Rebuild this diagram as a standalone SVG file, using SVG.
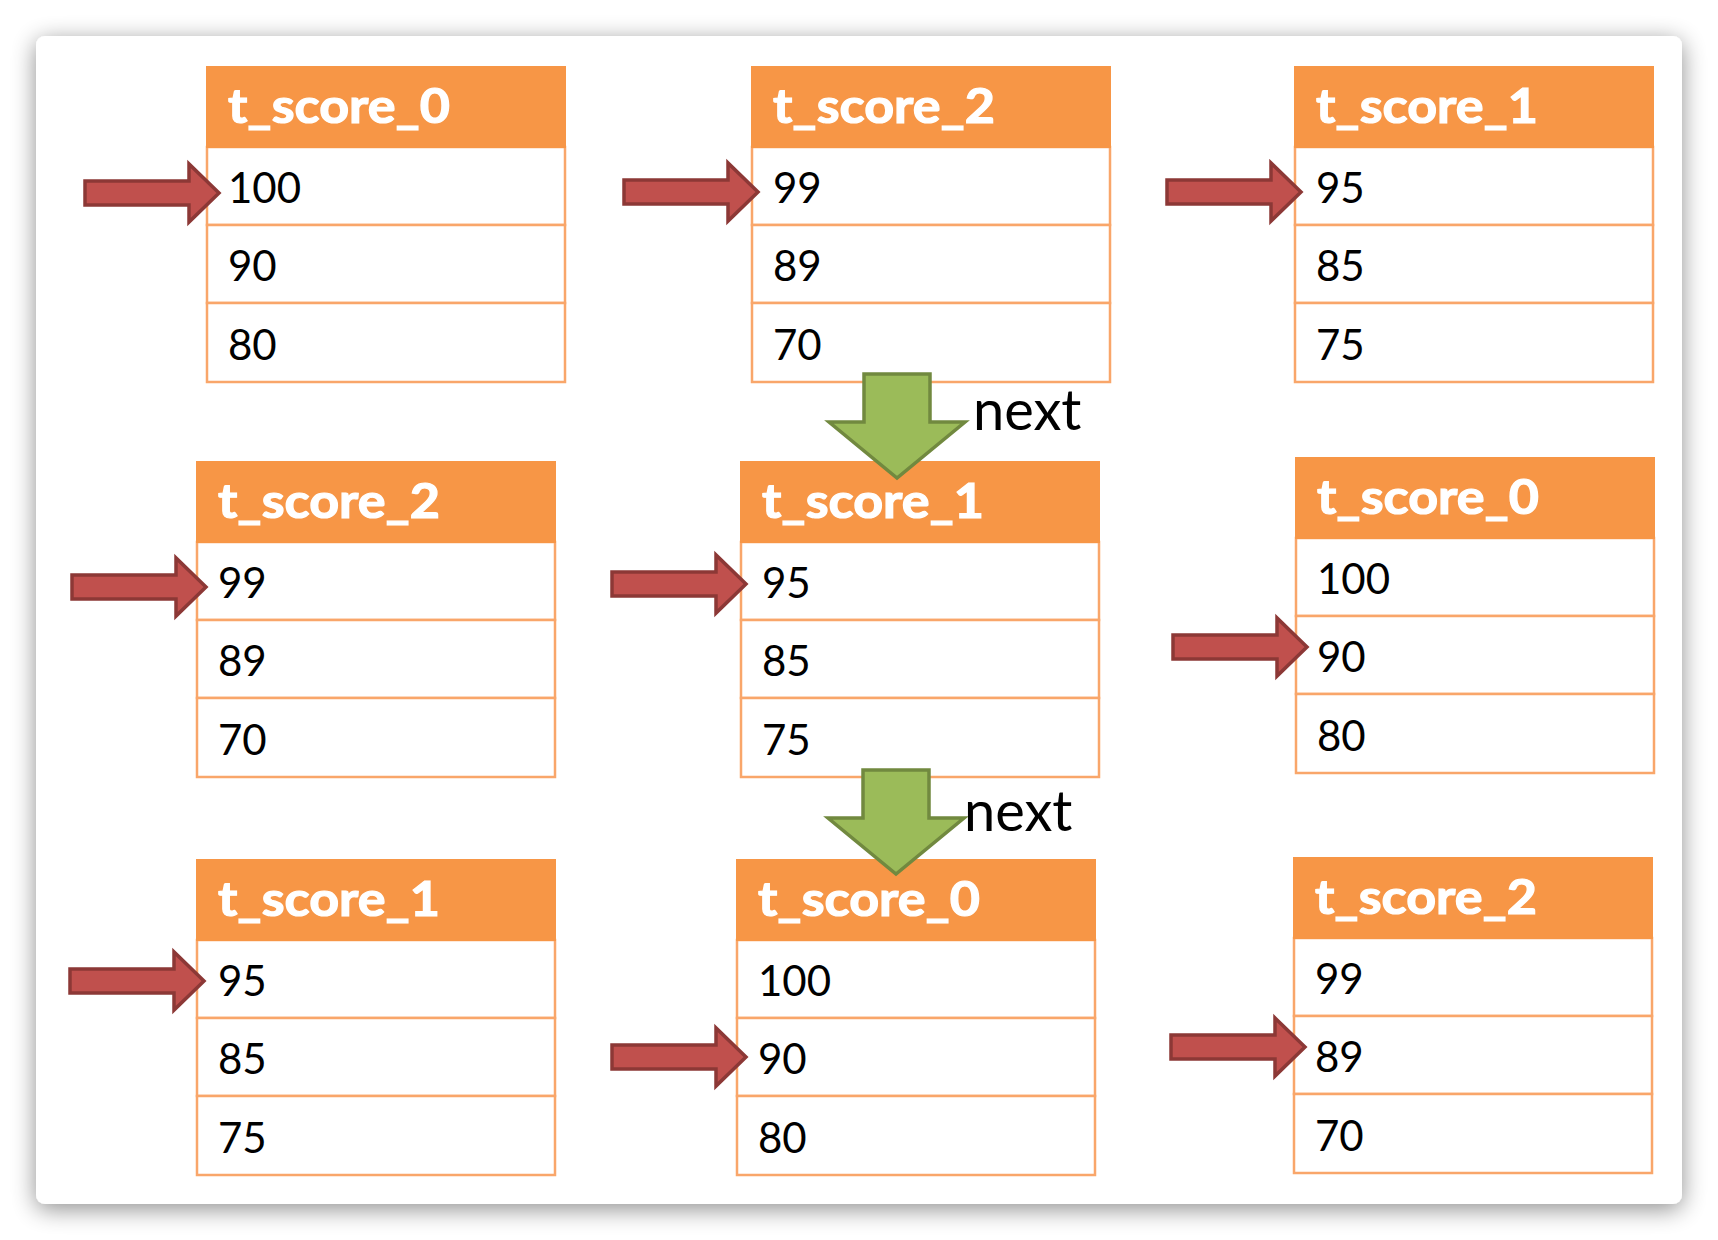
<svg xmlns="http://www.w3.org/2000/svg" width="1718" height="1240" viewBox="0 0 1718 1240">
<defs>
<style>
.hdr{fill:#F79646;stroke:#F79646;stroke-width:2}
.cell{fill:#FFFFFF;stroke:#F9A66A;stroke-width:2.5}
.ht{font-family:Lato,"Liberation Sans",sans-serif;font-weight:bold;font-size:47px;fill:#FFFFFF;stroke:#FFFFFF;stroke-width:1.2}
.rt{font-family:Lato,"Liberation Sans",sans-serif;font-size:42px;fill:#000000}
.nx{font-family:Lato,"Liberation Sans",sans-serif;font-size:56px;fill:#000000}
.red{fill:#C0504D;stroke:#8C3836;stroke-width:3.5;stroke-linejoin:miter}
.grn{fill:#9BBB59;stroke:#71893F;stroke-width:3.5;stroke-linejoin:miter}
</style>
<filter id="sh" x="-10%" y="-10%" width="120%" height="120%">
<feGaussianBlur in="SourceAlpha" stdDeviation="12"/>
<feOffset dy="5" result="b"/>
<feComponentTransfer><feFuncA type="linear" slope="0.45"/></feComponentTransfer>
<feMerge><feMergeNode/><feMergeNode in="SourceGraphic"/></feMerge>
</filter>
<path id="ra" d="M-134,-12 L-30,-12 L-30,-29 L0,0 L-30,29 L-30,12 L-134,12 Z"/>
<path id="ga" d="M-33,-102 L33,-102 L33,-54 L68,-54 L0,2 L-68,-54 L-33,-54 Z"/>
</defs>
<rect width="1718" height="1240" fill="#FFFFFF"/>
<rect x="36" y="36" width="1646" height="1168" rx="9" fill="#FFFFFF" filter="url(#sh)"/>

<g id="t1" transform="translate(207,67)">
<rect class="cell" x="0" y="80" width="358" height="78"/><rect class="cell" x="0" y="158" width="358" height="78"/><rect class="cell" x="0" y="236" width="358" height="79"/>
<rect class="hdr" x="0" y="0" width="358" height="80"/>
<text class="ht" x="21" y="56" textLength="222" lengthAdjust="spacingAndGlyphs">t_score_0</text>
<text class="rt" x="21" y="136">100</text><text class="rt" x="21" y="214">90</text><text class="rt" x="21" y="293">80</text>
</g>
<g id="t2" transform="translate(752,67)">
<rect class="cell" x="0" y="80" width="358" height="78"/><rect class="cell" x="0" y="158" width="358" height="78"/><rect class="cell" x="0" y="236" width="358" height="79"/>
<rect class="hdr" x="0" y="0" width="358" height="80"/>
<text class="ht" x="21" y="56" textLength="222" lengthAdjust="spacingAndGlyphs">t_score_2</text>
<text class="rt" x="21" y="136">99</text><text class="rt" x="21" y="214">89</text><text class="rt" x="21" y="293">70</text>
</g>
<g id="t3" transform="translate(1295,67)">
<rect class="cell" x="0" y="80" width="358" height="78"/><rect class="cell" x="0" y="158" width="358" height="78"/><rect class="cell" x="0" y="236" width="358" height="79"/>
<rect class="hdr" x="0" y="0" width="358" height="80"/>
<text class="ht" x="21" y="56" textLength="222" lengthAdjust="spacingAndGlyphs">t_score_1</text>
<text class="rt" x="21" y="136">95</text><text class="rt" x="21" y="214">85</text><text class="rt" x="21" y="293">75</text>
</g>
<g id="t4" transform="translate(197,462)">
<rect class="cell" x="0" y="80" width="358" height="78"/><rect class="cell" x="0" y="158" width="358" height="78"/><rect class="cell" x="0" y="236" width="358" height="79"/>
<rect class="hdr" x="0" y="0" width="358" height="80"/>
<text class="ht" x="21" y="56" textLength="222" lengthAdjust="spacingAndGlyphs">t_score_2</text>
<text class="rt" x="21" y="136">99</text><text class="rt" x="21" y="214">89</text><text class="rt" x="21" y="293">70</text>
</g>
<g id="t5" transform="translate(741,462)">
<rect class="cell" x="0" y="80" width="358" height="78"/><rect class="cell" x="0" y="158" width="358" height="78"/><rect class="cell" x="0" y="236" width="358" height="79"/>
<rect class="hdr" x="0" y="0" width="358" height="80"/>
<text class="ht" x="21" y="56" textLength="222" lengthAdjust="spacingAndGlyphs">t_score_1</text>
<text class="rt" x="21" y="136">95</text><text class="rt" x="21" y="214">85</text><text class="rt" x="21" y="293">75</text>
</g>
<g id="t6" transform="translate(1296,458)">
<rect class="cell" x="0" y="80" width="358" height="78"/><rect class="cell" x="0" y="158" width="358" height="78"/><rect class="cell" x="0" y="236" width="358" height="79"/>
<rect class="hdr" x="0" y="0" width="358" height="80"/>
<text class="ht" x="21" y="56" textLength="222" lengthAdjust="spacingAndGlyphs">t_score_0</text>
<text class="rt" x="21" y="136">100</text><text class="rt" x="21" y="214">90</text><text class="rt" x="21" y="293">80</text>
</g>
<g id="t7" transform="translate(197,860)">
<rect class="cell" x="0" y="80" width="358" height="78"/><rect class="cell" x="0" y="158" width="358" height="78"/><rect class="cell" x="0" y="236" width="358" height="79"/>
<rect class="hdr" x="0" y="0" width="358" height="80"/>
<text class="ht" x="21" y="56" textLength="222" lengthAdjust="spacingAndGlyphs">t_score_1</text>
<text class="rt" x="21" y="136">95</text><text class="rt" x="21" y="214">85</text><text class="rt" x="21" y="293">75</text>
</g>
<g id="t8" transform="translate(737,860)">
<rect class="cell" x="0" y="80" width="358" height="78"/><rect class="cell" x="0" y="158" width="358" height="78"/><rect class="cell" x="0" y="236" width="358" height="79"/>
<rect class="hdr" x="0" y="0" width="358" height="80"/>
<text class="ht" x="21" y="56" textLength="222" lengthAdjust="spacingAndGlyphs">t_score_0</text>
<text class="rt" x="21" y="136">100</text><text class="rt" x="21" y="214">90</text><text class="rt" x="21" y="293">80</text>
</g>
<g id="t9" transform="translate(1294,858)">
<rect class="cell" x="0" y="80" width="358" height="78"/><rect class="cell" x="0" y="158" width="358" height="78"/><rect class="cell" x="0" y="236" width="358" height="79"/>
<rect class="hdr" x="0" y="0" width="358" height="80"/>
<text class="ht" x="21" y="56" textLength="222" lengthAdjust="spacingAndGlyphs">t_score_2</text>
<text class="rt" x="21" y="136">99</text><text class="rt" x="21" y="214">89</text><text class="rt" x="21" y="293">70</text>
</g>

<g id="connectors">
<use href="#ra" class="red" transform="translate(219,193)"/>
<use href="#ra" class="red" transform="translate(758,192)"/>
<use href="#ra" class="red" transform="translate(1301,192)"/>
<use href="#ra" class="red" transform="translate(206,587)"/>
<use href="#ra" class="red" transform="translate(746,584)"/>
<use href="#ra" class="red" transform="translate(1307,647)"/>
<use href="#ra" class="red" transform="translate(204,981)"/>
<use href="#ra" class="red" transform="translate(746,1057)"/>
<use href="#ra" class="red" transform="translate(1305,1047)"/>
<use href="#ga" class="grn" transform="translate(897,476)"/>
<use href="#ga" class="grn" transform="translate(896,872)"/>
<text class="nx" x="973" y="430">next</text>
<text class="nx" x="964" y="831">next</text>
</g>
</svg>
